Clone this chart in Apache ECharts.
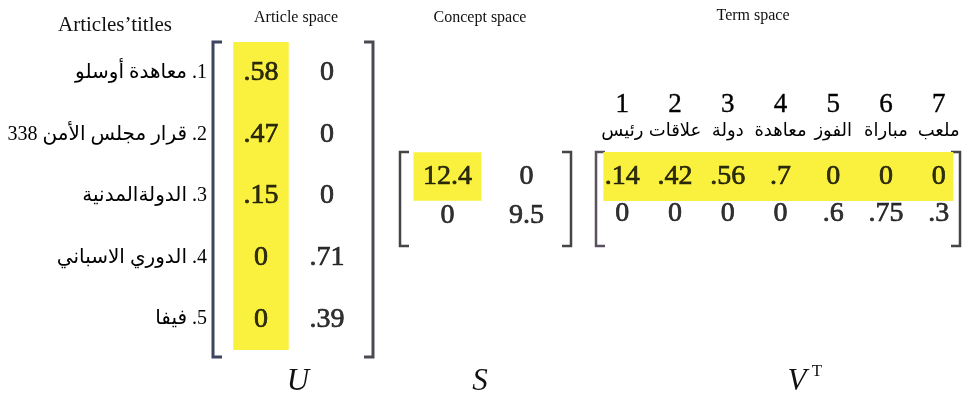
<!DOCTYPE html>
<html>
<head>
<meta charset="utf-8">
<script src="https://cdn.jsdelivr.net/npm/echarts@6/dist/echarts.min.js"></script>
<style>
  html, body { margin: 0; padding: 0; background: #fff; }
  #chart { width: 966px; height: 401px; }
</style>
</head>
<body>
<div id="chart"></div>
<script>
// article titles (rows of U) - wrapped in RTL embedding so "1." sits on the right
const articleTitles = [
  '1. معاهدة أوسلو',
  '2. قرار مجلس الأمن 338',
  '3. الدولةالمدنية',
  '4. الدوري الاسباني',
  '5. فيفا'
]
const conceptCols = ['1', '2']
const uCol1 = [0.58, 0.47, 0.15, 0, 0]
const uCol2 = [0, 0, 0, 0.71, 0.39]

const sRow1 = [12.4, 0]
const sRow2 = [0, 9.5]

const termNums = ['1', '2', '3', '4', '5', '6', '7']
const termWords = ['رئيس', 'علاقات', 'دولة', 'معاهدة', 'الفوز', 'مباراة', 'ملعب']
const vRow1 = [0.14, 0.42, 0.56, 0.7, 0, 0, 0]
const vRow2 = [0, 0, 0, 0, 0.6, 0.75, 0.3]

const SERIF = "'Liberation Serif', 'Times New Roman', serif"
const ARABIC = "'Liberation Serif', 'DejaVu Sans', serif"
const YELLOW = '#f9f13d'

// grid boxes
const gU = { left: 228, top: 42, width: 132, height: 308 }
const gS = { left: 408, top: 157, width: 158, height: 78 }
const gV = { left: 596, top: 158, width: 369, height: 74 }

function fmt(v) {
  if (v === 0) return '0'
  return String(v).replace(/^0\./, '.')
}

function cells(cols) {
  const out = []
  cols.forEach((col, ci) => col.forEach((v, ri) => out.push([ci, ri, v])))
  return out
}
function rows(rs) {
  const out = []
  rs.forEach((r, ri) => r.forEach((v, ci) => out.push([ci, ri, v])))
  return out
}

function valueSeries(idx, data, size) {
  return {
    type: 'scatter', xAxisIndex: idx, yAxisIndex: idx,
    symbolSize: 1, itemStyle: { color: 'rgba(0,0,0,0)' }, silent: true, z: 5,
    data: data,
    label: {
      show: true, position: 'inside',
      formatter: p => fmt(p.value[2]),
      fontFamily: SERIF, fontSize: size, color: '#000',
      textBorderColor: '#000', textBorderWidth: 0.7
    }
  }
}

// highlighted block [x0, x1, y0, y1] in category indexes
function highlightSeries(idx, block, padL, padR, padY) {
  return {
    type: 'custom', xAxisIndex: idx, yAxisIndex: idx, silent: true, z: 1,
    data: [block],
    encode: { x: [0, 1], y: [2, 3] },
    renderItem: (params, api) => {
      const a = api.coord([api.value(0), api.value(2)])
      const b = api.coord([api.value(1), api.value(3)])
      const band = api.size([1, 1])
      const x = a[0] - band[0] * padL
      const y = a[1] - band[1] * padY
      return {
        type: 'rect',
        shape: { x: x, y: y, width: b[0] + band[0] * padR - x, height: b[1] + band[1] * padY - y },
        style: { fill: YELLOW }
      }
    }
  }
}

function bracket(x, top, bottom, dir, color, w) {
  const t = 9 * dir
  return {
    type: 'polyline', silent: true,
    shape: { points: [[x + t, top], [x, top], [x, bottom], [x + t, bottom]] },
    style: { stroke: color, lineWidth: w, fill: null }
  }
}

function label(text, x, y, size, opts) {
  return {
    type: 'text', x: x, y: y, silent: true,
    style: Object.assign({
      text: text, fontFamily: SERIF, fontSize: size, fill: '#111',
      textAlign: 'center', textVerticalAlign: 'middle'
    }, opts || {})
  }
}

const chart = echarts.init(document.getElementById('chart'))

const hidden = { axisLine: { show: false }, axisTick: { show: false }, splitLine: { show: false } }

chart.setOption({
  animation: false,
  grid: [
    Object.assign({}, gU),
    Object.assign({}, gS),
    Object.assign({}, gV)
  ],
  xAxis: [
    Object.assign({ type: 'category', gridIndex: 0, data: conceptCols, axisLabel: { show: false } }, hidden),
    Object.assign({ type: 'category', gridIndex: 1, data: conceptCols, axisLabel: { show: false } }, hidden),
    Object.assign({
      type: 'category', gridIndex: 2, data: termNums, position: 'top',
      axisLabel: {
        show: true, margin: 16, interval: 0,
        formatter: (v, i) => '{n|' + v + '}\n{w|' + termWords[i] + '}',
        rich: {
          n: { fontFamily: SERIF, fontSize: 27, color: '#000', lineHeight: 30, textBorderColor: '#000', textBorderWidth: 0.4 },
          w: { fontFamily: ARABIC, fontSize: 18, color: '#000', lineHeight: 22 }
        }
      }
    }, hidden)
  ],
  yAxis: [
    Object.assign({
      type: 'category', gridIndex: 0, inverse: true,
      data: articleTitles,
      axisLabel: {
        show: true, margin: 21, interval: 0,
        formatter: v => '\u202B' + v + '\u202C',
        fontFamily: ARABIC, fontSize: 20, color: '#000'
      }
    }, hidden),
    Object.assign({ type: 'category', gridIndex: 1, inverse: true, data: ['1', '2'], axisLabel: { show: false } }, hidden),
    Object.assign({ type: 'category', gridIndex: 2, inverse: true, data: ['1', '2'], axisLabel: { show: false } }, hidden)
  ],
  series: [
    highlightSeries(0, [0, 0, 0, 4], 0.42, 0.42, 0.5),
    highlightSeries(1, [0, 0, 0, 0], 0.43, 0.43, 0.62),
    highlightSeries(2, [0, 6, 0, 0], 0.36, 0.28, 0.66),
    valueSeries(0, cells([uCol1, uCol2]), 28),
    valueSeries(1, rows([sRow1, sRow2]), 28),
    valueSeries(2, rows([vRow1, vRow2]), 28)
  ],
  graphic: [
    label('Articles\u2019titles', 115, 25, 21),
    label('Article space', 296, 18, 16),
    label('Concept space', 480, 18, 16),
    label('Term space', 753, 16, 16),
    bracket(213, 42, 357, 1, '#3d4560', 3),
    bracket(373, 42, 357, -1, '#4a4a55', 3),
    bracket(400, 152, 246, 1, '#454545', 2.5),
    bracket(571, 152, 246, -1, '#454545', 2.5),
    bracket(596, 152, 246, 1, '#5b5060', 2.5),
    bracket(960, 152, 246, -1, '#454545', 2.5),
    label('U', 298, 382, 31, { fontStyle: 'italic' }),
    label('S', 480, 382, 31, { fontStyle: 'italic' }),
    label('V', 797, 382, 31, { fontStyle: 'italic' }),
    label('T', 817, 372, 17)
  ]
})
</script>
</body>
</html>
